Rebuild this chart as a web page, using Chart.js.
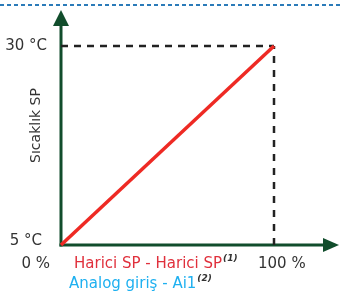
<!DOCTYPE html>
<html>
<head>
<meta charset="utf-8">
<script src="https://cdn.jsdelivr.net/npm/chart.js@4/dist/chart.umd.min.js"></script>
<style>
html,body{margin:0;padding:0;background:#fff;}
#wrap{position:relative;width:340px;height:291px;}
</style>
</head>
<body>
<div id="wrap"><canvas id="c" width="340" height="291"></canvas></div>
<script>
// ---- data ----
const inputPercent = [0, 100];          // Harici SP input range (%)
const setpointC = [5, 30];              // resulting Sıcaklık SP (°C)
const xTickLabels = ['0 %', '100 %'];
const yTickLabels = ['5 °C', '30 °C'];
const yTitle = 'Sıcaklık SP';
const legendTexts = ['Harici SP - Harici SP', 'Analog giriş - Ai1'];
const legendNotes = ['(1)', '(2)'];

const GREEN = '#114d2c';
const RED = '#ee2a24';
const DASH = '#222222';
const FONT = '"DejaVu Sans", Verdana, sans-serif';

const linePts = inputPercent.map((x, i) => ({x: x, y: setpointC[i]}));
const hGuide = [{x: inputPercent[0], y: setpointC[1]}, {x: inputPercent[1], y: setpointC[1]}];
const vGuide = [{x: inputPercent[1], y: setpointC[0]}, {x: inputPercent[1], y: setpointC[1]}];

const decor = {
  id: 'decor',
  beforeDatasetsDraw(chart) {
    const ctx = chart.ctx;
    const xs = chart.scales.x, ys = chart.scales.y;
    const x0 = xs.getPixelForValue(inputPercent[0]);
    const y0 = ys.getPixelForValue(setpointC[0]);
    ctx.save();
    // top blue dashed separator
    ctx.strokeStyle = '#2b7bb9';
    ctx.lineWidth = 2;
    ctx.setLineDash([4, 3]);
    ctx.beginPath(); ctx.moveTo(0, 5); ctx.lineTo(340, 5); ctx.stroke();
    ctx.setLineDash([]);
    // axes
    ctx.strokeStyle = GREEN; ctx.fillStyle = GREEN; ctx.lineWidth = 3;
    ctx.beginPath(); ctx.moveTo(x0, y0 + 1.5); ctx.lineTo(x0, 24); ctx.stroke();
    ctx.beginPath(); ctx.moveTo(x0 - 1.5, y0); ctx.lineTo(326, y0); ctx.stroke();
    // arrow heads
    ctx.beginPath(); ctx.moveTo(x0, 10); ctx.lineTo(x0 - 8, 26); ctx.lineTo(x0 + 8, 26); ctx.closePath(); ctx.fill();
    ctx.beginPath(); ctx.moveTo(339, y0); ctx.lineTo(323, y0 - 7); ctx.lineTo(323, y0 + 7); ctx.closePath(); ctx.fill();
    ctx.restore();
  },
  afterDatasetsDraw(chart) {
    const ctx = chart.ctx;
    const xs = chart.scales.x, ys = chart.scales.y;
    const x0 = xs.getPixelForValue(inputPercent[0]);
    const x1 = xs.getPixelForValue(inputPercent[1]);
    const y0 = ys.getPixelForValue(setpointC[0]);
    const y1 = ys.getPixelForValue(setpointC[1]);
    ctx.save();
    ctx.fillStyle = '#333333';
    ctx.font = '15px ' + FONT;
    ctx.textBaseline = 'middle';
    ctx.textAlign = 'right';
    ctx.fillText(yTickLabels[1], x0 - 14, y1);
    ctx.fillText(yTickLabels[0], x0 - 19, y0 - 4);
    ctx.fillText(xTickLabels[0], x0 - 11, y0 + 19);
    ctx.textAlign = 'left';
    ctx.fillText(xTickLabels[1], x1 - 16, y0 + 19);
    // y title
    ctx.save();
    ctx.translate(36, (y0 + y1) / 2 - 20);
    ctx.rotate(-Math.PI / 2);
    ctx.textAlign = 'center';
    ctx.font = '14px ' + FONT;
    ctx.fillText(yTitle, 0, 0);
    ctx.restore();
    // legend lines
    const colors = ['#e0303c', '#1eb0f0'];
    const lx = [x0 + 13, x0 + 8];
    const ly = [y0 + 19, y0 + 39];
    for (let i = 0; i < legendTexts.length; i++) {
      ctx.textAlign = 'left';
      ctx.fillStyle = colors[i];
      ctx.font = '15px ' + FONT;
      ctx.fillText(legendTexts[i], lx[i], ly[i]);
      const w = ctx.measureText(legendTexts[i]).width;
      ctx.fillStyle = '#333333';
      ctx.font = 'italic bold 9px ' + FONT;
      ctx.fillText(legendNotes[i], lx[i] + w + 1, ly[i] - 5);
    }
    ctx.restore();
  }
};

new Chart(document.getElementById('c'), {
  type: 'line',
  data: {
    datasets: [
      {data: linePts, borderColor: RED, borderWidth: 3.5, pointRadius: 0, order: 0, clip: false},
      {data: hGuide, borderColor: DASH, borderWidth: 2.5, borderDash: [7, 6], pointRadius: 0, order: 1, clip: false},
      {data: vGuide, borderColor: DASH, borderWidth: 2.5, borderDash: [7, 7], pointRadius: 0, order: 1, clip: false}
    ]
  },
  options: {
    responsive: false,
    animation: false,
    layout: {padding: {left: 61, right: 66, top: 46, bottom: 46}},
    plugins: {legend: {display: false}, tooltip: {enabled: false}},
    scales: {
      x: {type: 'linear', min: inputPercent[0], max: inputPercent[1], display: false},
      y: {type: 'linear', min: setpointC[0], max: setpointC[1], display: false}
    }
  },
  plugins: [decor]
});
</script>
</body>
</html>
